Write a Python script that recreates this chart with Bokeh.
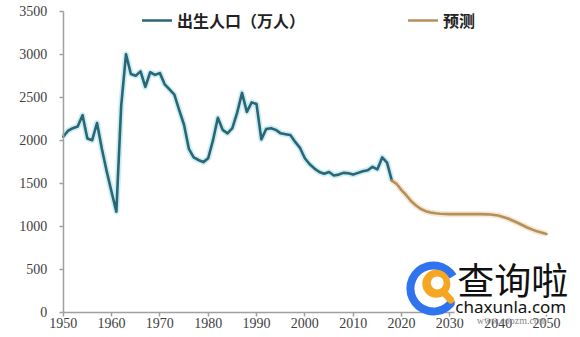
from bokeh.plotting import figure
from bokeh.models import Legend, LegendItem, Label, BoxAnnotation, Range1d, FixedTicker
from bokeh.embed import file_html
from bokeh.resources import INLINE

# ---- data (births, 10k persons) ----
hist_years = list(range(1950, 2019))
hist_values = [2040, 2110, 2140, 2160, 2290, 2020, 2000, 2200, 1900, 1640,
               1400, 1170, 2400, 3000, 2770, 2750, 2800, 2620, 2790, 2760,
               2780, 2650, 2590, 2530, 2350, 2180, 1900, 1800, 1770, 1745,
               1790, 2000, 2260, 2120, 2080, 2140, 2320, 2550, 2330, 2440,
               2420, 2010, 2130, 2140, 2120, 2080, 2070, 2060, 1980, 1910,
               1790, 1720, 1670, 1630, 1610, 1630, 1590, 1600, 1620, 1615,
               1600, 1620, 1640, 1650, 1690, 1660, 1800, 1740, 1530]
fc_years = [2018, 2019, 2020, 2021, 2022, 2023, 2024, 2025, 2026, 2027, 2028,
            2030, 2032, 2034, 2036, 2038, 2040, 2042, 2044, 2046, 2048, 2050]
fc_values = [1530, 1490, 1420, 1360, 1290, 1240, 1200, 1175, 1160, 1150, 1145,
             1140, 1140, 1140, 1140, 1138, 1125, 1090, 1040, 985, 940, 910]
x_ticks = [1950, 1960, 1970, 1980, 1990, 2000, 2010, 2020, 2030, 2040, 2050]
y_ticks = [0, 500, 1000, 1500, 2000, 2500, 3000, 3500]
legend_labels = ["出生人口（万人）", "预测"]

TEAL = "#2a6674"
TAN = "#b58f5c"
SERIF = "Liberation Serif"

# frame covers the whole canvas; axes are pinned inside it
p = figure(width=580, height=337, output_backend="svg", toolbar_location=None,
           x_range=Range1d(1937.03, 2057.03), y_range=Range1d(-294.2, 3624.4),
           min_border_left=0, min_border_right=0, min_border_top=0,
           min_border_bottom=0)
p.outline_line_color = None
p.xgrid.visible = False
p.ygrid.visible = False
p.background_fill_color = "white"
p.border_fill_color = "white"

xa = p.xaxis[0]
ya = p.yaxis[0]
for ax in (xa, ya):
    ax.axis_line_color = "#a0a0a0"
    ax.axis_line_width = 1.5
    ax.major_tick_line_color = "#a0a0a0"
    ax.major_tick_line_width = 1.5
    ax.major_tick_in = 0
    ax.major_tick_out = 4
    ax.minor_tick_line_color = None
    ax.major_label_text_font = SERIF
    ax.major_label_text_font_size = "14px"
    ax.major_label_text_color = "#404040"
xa.ticker = FixedTicker(ticks=x_ticks)
ya.ticker = FixedTicker(ticks=y_ticks)
xa.fixed_location = 0
ya.fixed_location = 1950
xa.bounds = (1950, 2050)
ya.bounds = (0, 3500)
xa.major_label_standoff = 2
ya.major_label_standoff = 12

# glow
p.line(hist_years, hist_values, line_color="#bfe9f0", line_width=6, line_alpha=0.8,
       line_join="round")
p.line(fc_years, fc_values, line_color="#f4e2c6", line_width=6, line_alpha=0.8,
       line_join="round")
r_hist = p.line(hist_years, hist_values, line_color=TEAL, line_width=2.6,
                line_join="round", line_cap="round")
r_fc = p.line(fc_years, fc_values, line_color=TAN, line_width=2.6,
              line_join="round", line_cap="round")

legend = Legend(items=[LegendItem(label=legend_labels[0], renderers=[r_hist]),
                       LegendItem(label=legend_labels[1], renderers=[r_fc])],
                orientation="horizontal", location=(142, 305), spacing=103,
                glyph_width=30, label_standoff=5, padding=0, margin=0,
                border_line_color=None, background_fill_alpha=0,
                label_text_font="Noto Sans CJK SC", label_text_font_style="bold",
                label_text_font_size="16px", label_text_color="#222222")
p.add_layout(legend)

# ---- watermark ----
box1 = BoxAnnotation(left=2031, right=2057, bottom=-30, top=200,
                     fill_color="white", fill_alpha=0.92, line_alpha=0,
                     level="overlay")
box2 = BoxAnnotation(left=2031, right=2045.5, bottom=-75, top=0,
                     fill_color="white", fill_alpha=0.8, line_alpha=0,
                     level="overlay")
p.add_layout(box1)
p.add_layout(box2)
ring = p.annular_wedge(x=[2026.6], y=[276], inner_radius=19, outer_radius=27,
                       inner_radius_units="screen", outer_radius_units="screen",
                       start_angle=0.55, end_angle=5.75, fill_color="#2f73ee",
                       line_alpha=0)
ring.level = "overlay"
handle = p.segment(x0=[2027.2], y0=[330], x1=[2030.2], y1=[140],
                   line_color="#f5a623", line_width=7, line_cap="round")
handle.level = "overlay"
mag = p.scatter(x=[2027.2], y=[330], size=28, fill_color="#f5a623", line_alpha=0)
mag.level = "overlay"
inner = p.scatter(x=[2027.4], y=[340], size=13, fill_color="white", line_alpha=0)
inner.level = "overlay"

for txt, x, y, size, font, color in [
        ("查询啦", 2043.0, 386, "37px", "Noto Sans CJK SC", "#111111"),
        ("chaxunla.com", 2042.6, 72, "17px", "Noto Sans", "#111111"),
        ("www.coozm.com", 2042.8, -100, "10px", SERIF, "#888888")]:
    lab = Label(x=x, y=y, text=txt, text_font=font, text_font_size=size,
                text_color=color, text_align="center", text_baseline="middle",
                level="overlay")
    p.add_layout(lab)

open("out.html", "w").write(file_html(p, INLINE))
